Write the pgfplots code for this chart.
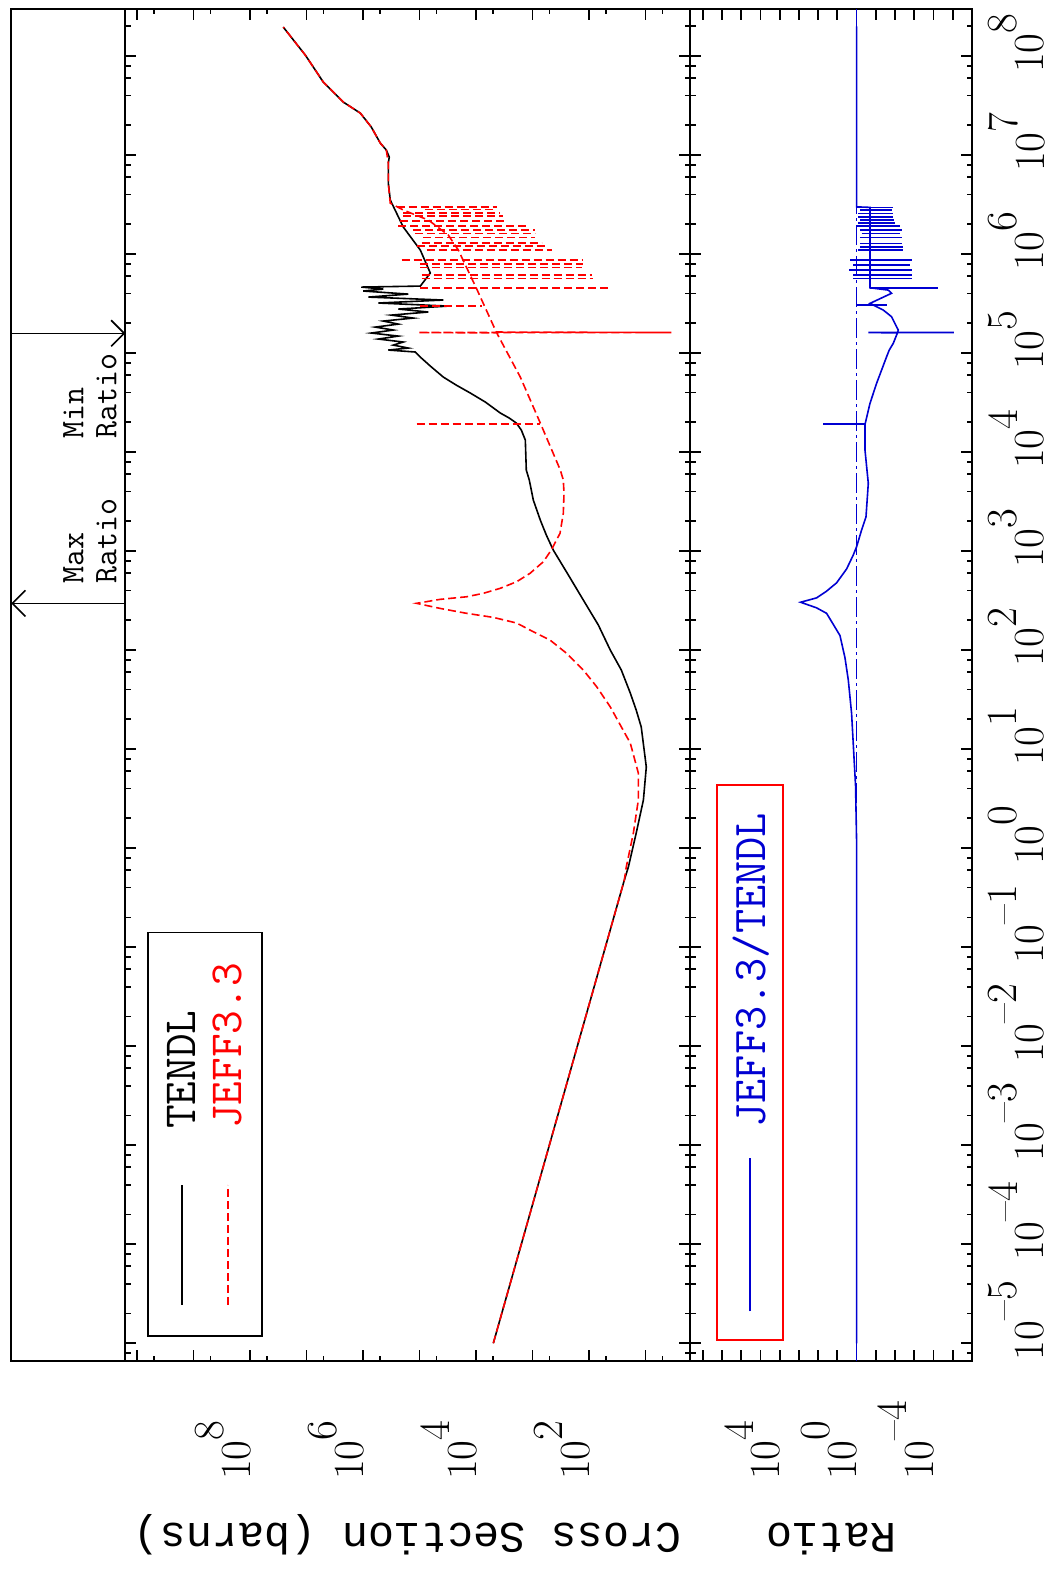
\documentclass[border=0pt]{standalone}
\usepackage{fontspec}
\usepackage{graphicx}
\usepackage{pgfplots}
\pgfplotsset{compat=1.18}
\usetikzlibrary{arrows.meta}
\newfontfamily\labmono{Liberation Mono}
\definecolor{rblue}{RGB}{0,0,210}
\definecolor{rred}{RGB}{255,0,0}
\newcommand{\lab}[1]{10\raisebox{0.62em}{#1}}
\newcommand{\elab}[1]{10\rlap{\raisebox{0.62em}{#1}}}
\newcommand{\mi}{\textendash}
\tikzset{rspike/.style={draw=rred, line width=1.6pt, dash pattern=on 8pt off 4pt},
         bspike/.style={draw=rblue, line width=1.6pt}}
\newsavebox\chartbox
\begin{document}
\begin{lrbox}{\chartbox}
\begin{tikzpicture}
\useasboundingbox (0pt,0pt) rectangle (1573pt,1048pt);

% ---------------- strip with Max / Min ratio markers
\begin{axis}[scale only axis, width=1352pt, height=114pt, anchor=south west, at={(212pt,926pt)},
  xmode=log, xmin=6.62e-6, xmax=2.99e8, ymin=0, ymax=114, ticks=none,
  axis line style={line width=2pt}, clip=false]
\draw[line width=1.6pt, -{Straight Barb[length=13pt,width=26pt]}] (axis cs:1.585e5,114) -- (axis cs:1.585e5,0);
\draw[line width=1.6pt, -{Straight Barb[length=13pt,width=26pt]}] (axis cs:297,0) -- (axis cs:297,114);
\node[anchor=base west, inner sep=0pt, font=\ttfamily\fontsize{33}{33}\selectfont] at (axis cs:1.38e4,42) {Min};
\node[anchor=base west, inner sep=0pt, font=\ttfamily\fontsize{33}{33}\selectfont] at (axis cs:1.38e4,9) {Ratio};
\node[anchor=base west, inner sep=0pt, font=\ttfamily\fontsize{33}{33}\selectfont] at (axis cs:473,42) {Max};
\node[anchor=base west, inner sep=0pt, font=\ttfamily\fontsize{33}{33}\selectfont] at (axis cs:473,9) {Ratio};
\end{axis}

% ---------------- main cross-section panel
\begin{axis}[scale only axis, width=1352pt, height=565pt, anchor=south west, at={(212pt,361pt)},
  xmode=log, ymode=log, xmin=6.62e-6, xmax=2.99e8, ymin=1.61, ymax=1.61e10,
  axis line style={line width=2pt},
  tick style={black, line width=1.8pt},
  major tick length=11pt, minor tick length=5.5pt,
  xtick={1e-5,1e-4,1e-3,1e-2,0.1,1,10,100,1000,1e4,1e5,1e6,1e7,1e8},
  minor xtick={8e-6,2e-5,4e-5,6e-5,8e-5,2e-4,4e-4,6e-4,8e-4,2e-3,4e-3,6e-3,8e-3,0.02,0.04,0.06,0.08,0.2,0.4,0.6,0.8,2,4,6,8,20,40,60,80,200,400,600,800,2e3,4e3,6e3,8e3,2e4,4e4,6e4,8e4,2e5,4e5,6e5,8e5,2e6,4e6,6e6,8e6,2e7,4e7,6e7,8e7,2e8},
  xticklabels={},
  ytick={10,100,1000,1e4,1e5,1e6,1e7,1e8,1e9,1e10},
  yticklabels={{},\lab{2},{},\lab{4},{},\lab{6},{},\lab{8},{},{}},
  minor ytick={5,50,500,5e3,5e4,5e5,5e6,5e7,5e8,5e9},
  tick label style={font=\fontsize{43}{50}\selectfont},
  yticklabel style={anchor=base west, inner sep=0pt, xshift=-119pt},
  ylabel={Cross Section (barns)},
  every axis y label/.style={at={(axis description cs:-0.11982,0.5)}, anchor=base, rotate=90, font=\labmono\fontsize{43.5}{43.5}\selectfont},
  legend style={at={(axis description cs:0.0178,0.9611)}, anchor=north west,
    draw=black, line width=1.8pt, inner xsep=30.5pt, inner ysep=19pt,
    row sep=16pt, column sep=55pt, nodes={inner sep=0pt},
    font=\ttfamily\fontsize{46}{46}\selectfont, cells={anchor=west}},
  legend image code/.code={\draw[#1] (0pt,0pt) -- (120pt,0pt);},
]
\addplot[draw=black, line width=1.6pt] coordinates {
(1e-5,4940) (0.4764,23.7) (0.6457,20.1) (1.422,14.6) (3.063,10.9) (6.607,9.68)
(16.75,11.9) (24.8,14.6) (36.9,18.6) (63.0,26.8) (100.2,42.0) (179.5,68.4) (320.6,126)
(574,232) (1026,429) (1455,570) (2061,728) (3281,968) (5224,1140) (6592,1288)
(1.324e4,1340) (1.671e4,1578) (1.968e4,1936) (2.208e4,2576) (2.483e4,3715)
(3.206e4,6839) (3.954e4,1.262e4) (4.75e4,2.233e4) (5.728e4,3.79e4) (7.40e4,6.44e4) (9.12e4,9.68e4)
(1.026e5,1.186e5) (1.074e5,3.565e5) (1.125e5,1.578e5) (1.205e5,2.911e5)
(1.294e5,1.936e5) (1.387e5,5.358e5) (1.486e5,2.371e5) (1.595e5,7.13e5)
(1.710e5,2.911e5) (1.832e5,6.05e5) (1.963e5,2.371e5) (2.108e5,4.375e5)
(2.259e5,1.288e5) (2.421e5,3.155e5) (2.600e5,6.98e4) (2.786e5,2.371e5)
(2.985e5,3.09e4) (3.206e5,5.358e5) (3.436e5,3.79e4) (3.681e5,8.05e5)
(3.945e5,1.578e5) (4.236e5,9.88e5) (4.436e5,4.375e5) (4.645e5,1.072e6)
(4.753e5,9.68e4) (6.44e5,6.44e4) (1.099e6,9.68e4) (1.875e6,1.936e5)
(3.515e6,3.29e5) (5.21e6,3.565e5) (8.30e6,3.565e5) (9.55e6,3.43e5)
(1.125e7,3.87e5) (1.321e7,4.94e5) (1.919e7,7.13e5) (2.655e7,1.117e6)
(3.43e7,2.233e6) (5.46e7,5.05e6) (1.023e8,1.05e7) (1.963e8,2.58e7)
};
\addlegendentry{TENDL}
\addplot[draw=rred, line width=1.6pt, dash pattern=on 8pt off 4pt] coordinates {
(1e-5,4940) (0.4764,23.7) (0.6457,21.9) (1.422,16.4) (3.063,13.4) (5.74,13.4)
(11.53,18.6) (26.7,42.0) (42.8,73.3) (63.0,126) (92.9,249) (126.5,490) (153.5,968)
(187.9,1910) (214.3,4943) (235.5,1.466e4) (264.2,4.34e4) (297.2,1.125e5)
(325.8,4.34e4) (346.1,1.466e4) (375.0,7430) (420.7,3758) (491,1910) (597,1107)
(781,644) (1026,465) (1514,326) (2410,285) (3837,277) (5224,285) (6592,322)
(1.968e4,728) (5.728e4,1644) (1.600e5,4300) (1.614e5,1.05e5) (1.614e5,3.49)
(1.633e5,4375) (4.54e5,9880) (1.099e6,2.056e4)
(1.556e6,3.09e4) (2.208e6,6.98e4) (2.786e6,1.936e5) (3.27e6,3.29e5)
(5.21e6,3.565e5) (8.30e6,3.565e5) (1.125e7,3.87e5) (1.321e7,4.94e5)
(1.919e7,7.13e5) (2.655e7,1.117e6) (3.43e7,2.233e6) (5.46e7,5.05e6)
(1.023e8,1.05e7) (1.963e8,2.58e7)
};
\addlegendentry{\textcolor{rred}{JEFF3.3}}
\addplot[rspike, forget plot] coordinates {(1.923e4,1.125e5) (1.923e4,736)};
\addplot[rspike, forget plot] coordinates {(3.006e5,9.79e4) (3.006e5,7960)};
\addplot[rspike, forget plot] coordinates {(4.57e5,9.79e4) (4.57e5,42.5)};
\addplot[rspike, forget plot] coordinates {(5.69e5,9.18e4) (5.69e5,83.9)};
\addplot[rspike, forget plot] coordinates {(6.14e5,9.18e4) (6.14e5,89.9)};
\addplot[rspike, forget plot] coordinates {(7.35e5,9.79e4) (7.35e5,135)};
\addplot[rspike, forget plot] coordinates {(7.93e5,9.79e4) (7.93e5,126)};
\addplot[rspike, forget plot] coordinates {(8.71e5,2.075e5) (8.71e5,126)};
\addplot[rspike, forget plot] coordinates {(1.099e6,7.48e4) (1.099e6,459)};
\addplot[rspike, forget plot] coordinates {(1.205e6,1.125e5) (1.205e6,562)};
\addplot[rspike, forget plot] coordinates {(1.303e6,9.18e4) (1.303e6,690)};
\addplot[rspike, forget plot] coordinates {(1.476e6,8.57e4) (1.476e6,903)};
\addplot[rspike, forget plot] coordinates {(1.618e6,1.202e5) (1.618e6,903)};
\addplot[rspike, forget plot] coordinates {(1.750e6,1.288e5) (1.750e6,903)};
\addplot[rspike, forget plot] coordinates {(1.919e6,2.371e5) (1.919e6,1271)};
\addplot[rspike, forget plot] coordinates {(2.173e6,2.213e5) (2.173e6,3069)};
\addplot[rspike, forget plot] coordinates {(2.421e6,1.936e5) (2.421e6,3289)};
\addplot[rspike, forget plot] coordinates {(2.612e6,1.936e5) (2.612e6,3758)};
\addplot[rspike, forget plot] coordinates {(2.831e6,8.0e4) (2.831e6,4613)};
\addplot[rspike, forget plot] coordinates {(3.006e6,2.54e5) (3.006e6,4315)};
\end{axis}

% ---------------- ratio panel
\begin{axis}[scale only axis, width=1352pt, height=282pt, anchor=south west, at={(212pt,79pt)},
  xmode=log, ymode=log, xmin=6.62e-6, xmax=2.99e8, ymin=9.55e-7, ymax=4.45e8,
  axis line style={line width=2pt},
  tick style={black, line width=1.8pt},
  major tick length=11pt, minor tick length=5.5pt,
  xtick={1e-5,1e-4,1e-3,1e-2,0.1,1,10,100,1000,1e4,1e5,1e6,1e7,1e8},
  minor xtick={8e-6,2e-5,4e-5,6e-5,8e-5,2e-4,4e-4,6e-4,8e-4,2e-3,4e-3,6e-3,8e-3,0.02,0.04,0.06,0.08,0.2,0.4,0.6,0.8,2,4,6,8,20,40,60,80,200,400,600,800,2e3,4e3,6e3,8e3,2e4,4e4,6e4,8e4,2e5,4e5,6e5,8e5,2e6,4e6,6e6,8e6,2e7,4e7,6e7,8e7,2e8},
  xticklabels={\elab{\mi5},\elab{\mi4},\elab{\mi3},\elab{\mi2},\elab{\mi1},\elab{0},\elab{1},\elab{2},\elab{3},\elab{4},\elab{5},\elab{6},\elab{7},\elab{8}},
  ytick={1e-6,1e-5,1e-4,1e-3,1e-2,0.1,1,10,100,1000,1e4,1e5,1e6,1e7,1e8},
  yticklabels={{},{},\lab{\mi4},{},{},{},\lab{0},{},{},{},\lab{4},{},{},{},{}},
  yminorticks=false,
  tick label style={font=\fontsize{43}{50}\selectfont},
  yticklabel style={anchor=base west, inner sep=0pt, xshift=-119pt},
  xticklabel style={anchor=north, inner sep=0pt, yshift=-16pt, xshift=3pt},
  ylabel={Ratio},
  every axis y label/.style={at={(axis description cs:-0.11982,0.5)}, anchor=base, rotate=90, font=\labmono\fontsize{43.5}{43.5}\selectfont},
  legend style={at={(axis description cs:0.0148,0.9078)}, anchor=north west,
    draw=rred, line width=1.8pt, inner xsep=28pt, inner ysep=16pt,
    column sep=30pt, nodes={inner sep=0pt},
    font=\ttfamily\fontsize{47}{47}\selectfont, cells={anchor=west}},
  legend image code/.code={\draw[#1] (0pt,0pt) -- (153pt,0pt);},
]
\addplot[draw=rblue, line width=1.8pt, dash pattern=on 20pt off 4pt on 3pt off 4pt, forget plot] coordinates {(6.62e-6,1) (2.99e8,1)};
\addplot[draw=rblue, line width=1.6pt] coordinates {
(1e-5,1) (1.18,1) (4.25,1.13) (8.18,1.36) (23.0,1.82) (49.9,2.70) (83.6,4.01)
(140.3,7.30) (182,16.3) (235.5,36.3) (267.4,120) (304.8,817) (337.3,120)
(394.5,36.3) (478.6,10.96) (660.7,3.31) (913.6,1.49) (1107,1.0) (1633,0.55)
(2223,0.324) (4842,0.246) (1.05e4,0.366) (1.9e4,0.366) (3.11e4,0.201) (4.95e4,0.0912)
(9.19e4,0.0275) (1.074e5,0.0200) (1.256e5,0.01236) (1.60e5,0.0075)
(1.614e5,0.246) (1.614e5,8.61e-6) (1.62e5,0.0075) (1.71e5,0.00679)
(1.845e5,0.00832) (2.33e5,0.01514) (2.72e5,0.0409) (3.18e5,0.201)
(4.02e5,0.01514) (4.33e5,0.0225) (4.57e5,0.201) (2.965e6,0.201)
(3.0e6,1) (2e8,1)
};
\addlegendentry{\textcolor{rblue}{JEFF3.3/TENDL}}
\addplot[bspike, forget plot] coordinates {(1.923e4,53.9) (1.923e4,0.366)};
\addplot[bspike, forget plot] coordinates {(3.06e5,1.0) (3.06e5,0.0275)};
\addplot[bspike, forget plot] coordinates {(4.57e5,0.201) (4.57e5,5.64e-5)};
\addplot[bspike, forget plot] coordinates {(5.69e5,1.49) (5.69e5,0.00138)};
\addplot[bspike, forget plot] coordinates {(6.14e5,1.49) (6.14e5,0.00138)};
\addplot[bspike, forget plot] coordinates {(6.90e5,2.48) (6.90e5,0.00127)};
\addplot[bspike, forget plot] coordinates {(7.75e5,1.49) (7.75e5,0.00167)};
\addplot[bspike, forget plot] coordinates {(8.71e5,2.20) (8.71e5,0.00127)};
\addplot[bspike, forget plot] coordinates {(1.099e6,0.816) (1.099e6,0.00373)};
\addplot[bspike, forget plot] coordinates {(1.186e6,0.666) (1.186e6,0.00373)};
\addplot[bspike, forget plot] coordinates {(1.282e6,0.666) (1.282e6,0.00457)};
\addplot[bspike, forget plot] coordinates {(1.476e6,0.666) (1.476e6,0.00457)};
\addplot[bspike, forget plot] coordinates {(1.618e6,0.549) (1.618e6,0.00553)};
\addplot[bspike, forget plot] coordinates {(1.75e6,0.666) (1.75e6,0.00457)};
\addplot[bspike, forget plot] coordinates {(1.919e6,1.0) (1.919e6,0.00553)};
\addplot[bspike, forget plot] coordinates {(2.075e6,0.816) (2.075e6,0.01007)};
\addplot[bspike, forget plot] coordinates {(2.208e6,0.666) (2.208e6,0.01135)};
\addplot[bspike, forget plot] coordinates {(2.383e6,0.816) (2.383e6,0.01236)};
\addplot[bspike, forget plot] coordinates {(2.577e6,0.816) (2.577e6,0.01236)};
\addplot[bspike, forget plot] coordinates {(2.786e6,0.666) (2.786e6,0.01514)};
\addplot[bspike, forget plot] coordinates {(2.965e6,1.0) (2.965e6,0.0134)};
\end{axis}
\end{tikzpicture}
\end{lrbox}
\rotatebox{90}{\usebox\chartbox}
\end{document}
